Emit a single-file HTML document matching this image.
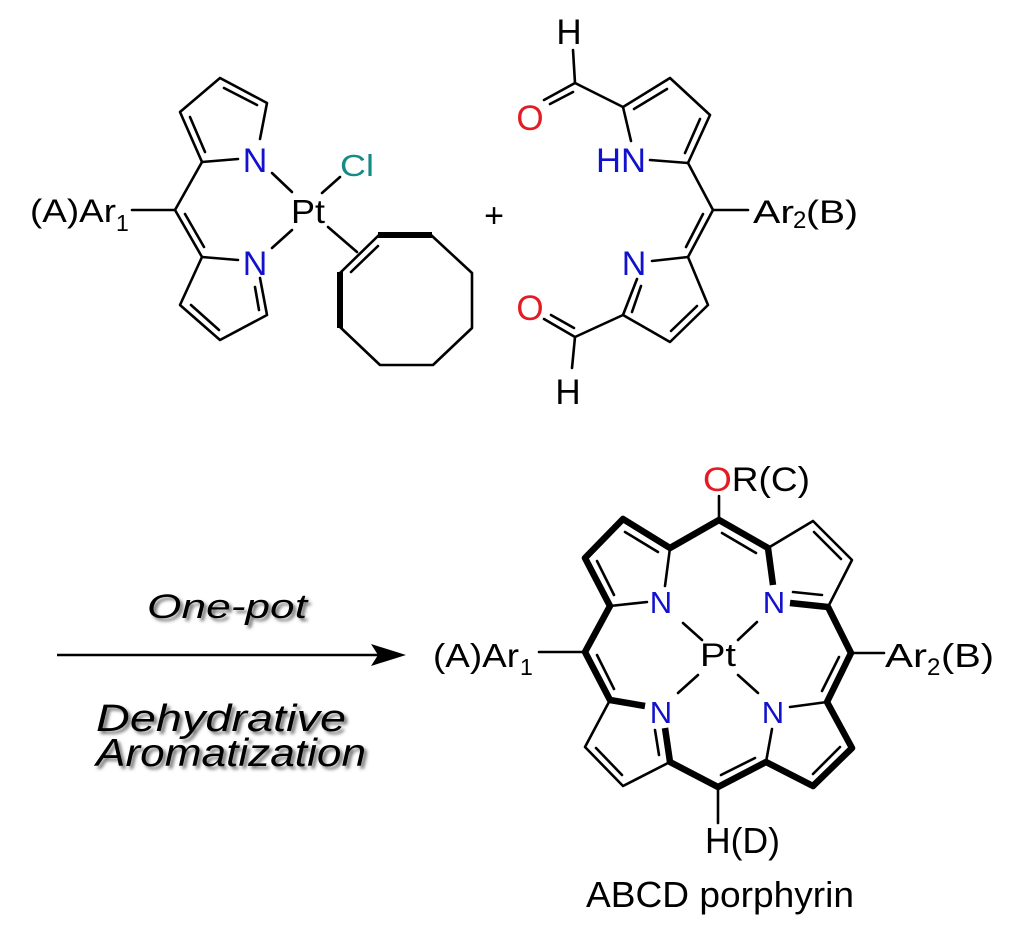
<!DOCTYPE html>
<html><head><meta charset="utf-8">
<style>
html,body{margin:0;padding:0;background:#fff;}
svg{display:block;}
text{font-family:"Liberation Sans",Arial,sans-serif;}
</style></head><body>
<svg width="1024" height="931" viewBox="0 0 1024 931" xmlns="http://www.w3.org/2000/svg">
<defs>
<filter id="sh" x="-10%" y="-40%" width="130%" height="190%">
<feDropShadow dx="3" dy="3" stdDeviation="1.5" flood-color="#555" flood-opacity="0.8"/>
</filter>
</defs>
<rect width="1024" height="931" fill="#fff"/>

<!-- ===== Top-left Pt dipyrrin complex ===== -->
<g stroke="#000" stroke-width="2.6" fill="none" stroke-linecap="round" stroke-linejoin="round">
  <polyline points="202,162 180,112 220,78 267,103 260,139"/>
  <line x1="202" y1="162" x2="238" y2="159"/>
  <line x1="190" y1="117" x2="205" y2="152"/>
  <line x1="224" y1="88" x2="257" y2="105"/>
  <line x1="175" y1="210" x2="202" y2="162"/>
  <line x1="175" y1="210" x2="202" y2="257"/>
  <line x1="185" y1="214" x2="204" y2="247"/>
  <line x1="132" y1="210" x2="175" y2="210"/>
  <line x1="202" y1="257" x2="238" y2="260"/>
  <polyline points="260,278 267,315 220,340 180,305 202,257"/>
  <line x1="255" y1="287" x2="259" y2="310"/>
  <line x1="191" y1="305" x2="219" y2="330"/>
  <line x1="272" y1="173" x2="292" y2="192"/>
  <line x1="272" y1="248" x2="292" y2="230"/>
  <line x1="322" y1="193" x2="340" y2="177"/>
  <line x1="328" y1="227" x2="357" y2="252"/>
  <polyline points="431,235 472,273 472,328 433,365 380,365 340,327"/>
  <line x1="340" y1="273" x2="379" y2="235"/>
  <line x1="351" y1="272" x2="378" y2="246"/>
</g>
<g stroke="#000" stroke-width="6" fill="none" stroke-linecap="butt">
  <line x1="378" y1="235" x2="432" y2="235"/>
  <line x1="340" y1="272" x2="340" y2="328"/>
</g>

<text x="255" y="172" font-size="34" fill="#1212cc" text-anchor="middle">N</text>
<text x="255" y="275" font-size="34" fill="#1212cc" text-anchor="middle">N</text>
<text x="291" y="223" font-size="33" textLength="34" lengthAdjust="spacingAndGlyphs">Pt</text>
<text x="340" y="176" font-size="31" fill="#168a84" textLength="34" lengthAdjust="spacingAndGlyphs">Cl</text>
<text x="30" y="222" font-size="32" textLength="86" lengthAdjust="spacingAndGlyphs">(A)Ar</text>
<text x="116" y="231" font-size="23">1</text>

<text x="494" y="227" font-size="34" text-anchor="middle">+</text>

<!-- ===== Top-right dialdehyde ===== -->
<g stroke="#000" stroke-width="2.6" fill="none" stroke-linecap="round" stroke-linejoin="round">
  <line x1="573" y1="50" x2="575" y2="83"/>
  <line x1="575" y1="83" x2="544" y2="100"/>
  <line x1="573" y1="92" x2="550" y2="104"/>
  <line x1="575" y1="83" x2="623" y2="107"/>
  <line x1="623" y1="107" x2="631" y2="141"/>
  <polyline points="623,107 670,78 710,115 688,163"/>
  <line x1="634" y1="109" x2="667" y2="89"/>
  <line x1="700" y1="119" x2="685" y2="153"/>
  <line x1="688" y1="163" x2="650" y2="160"/>
  <line x1="688" y1="163" x2="713" y2="210"/>
  <line x1="713" y1="210" x2="748" y2="210"/>
  <line x1="713" y1="210" x2="688" y2="257"/>
  <line x1="703" y1="214" x2="686" y2="247"/>
  <line x1="688" y1="257" x2="652" y2="261"/>
  <line x1="637" y1="279" x2="623" y2="315"/>
  <line x1="641" y1="286" x2="632" y2="312"/>
  <polyline points="623,315 670,342 708,305 688,257"/>
  <line x1="671" y1="331" x2="697" y2="306"/>
  <line x1="623" y1="315" x2="575" y2="337"/>
  <line x1="575" y1="337" x2="544" y2="319"/>
  <line x1="574" y1="328" x2="551" y2="315"/>
  <line x1="575" y1="337" x2="572" y2="368"/>
</g>
<text x="569" y="44" font-size="35" text-anchor="middle">H</text>
<text x="530" y="130" font-size="35" fill="#e31b23" text-anchor="middle">O</text>
<text x="596" y="172" font-size="34" fill="#1212cc" textLength="50" lengthAdjust="spacingAndGlyphs">HN</text>
<text x="634" y="275" font-size="34" fill="#1212cc" text-anchor="middle">N</text>
<text x="530" y="320" font-size="35" fill="#e31b23" text-anchor="middle">O</text>
<text x="568" y="404" font-size="35" text-anchor="middle">H</text>
<text x="753" y="223" font-size="32" textLength="41" lengthAdjust="spacingAndGlyphs">Ar</text>
<text x="793" y="228" font-size="24">2</text>
<text x="806" y="223" font-size="32" textLength="52" lengthAdjust="spacingAndGlyphs">(B)</text>

<!-- ===== Arrow and conditions ===== -->
<line x1="57" y1="655" x2="380" y2="655" stroke="#000" stroke-width="2.4"/>
<polygon points="406,655 371,644 378,655 371,666" fill="#000"/>
<g filter="url(#sh)" font-style="italic">
<text x="147" y="618" font-size="34" textLength="160" lengthAdjust="spacingAndGlyphs">One-pot</text>
<text x="96" y="731" font-size="38" textLength="250" lengthAdjust="spacingAndGlyphs">Dehydrative</text>
<text x="96" y="766" font-size="39" textLength="270" lengthAdjust="spacingAndGlyphs">Aromatization</text>
</g>

<!-- ===== Porphyrin ===== -->
<g stroke="#000" stroke-width="6.5" fill="none" stroke-linecap="butt" stroke-linejoin="round">
  <polyline points="645,706 610,700 585,652 610,606 585,558 623,519 670,548 719,520 768,548 773,585"/>
  <polyline points="790,603 828,607 851,653 827,702 852,748 813,786 766,762 718,787 670,762 665,728"/>
</g>
<g stroke="#000" stroke-width="2.6" fill="none" stroke-linecap="round" stroke-linejoin="round">
  <line x1="658" y1="552" x2="625" y2="532"/>
  <line x1="597" y1="561" x2="614" y2="595"/>
  <line x1="722" y1="533" x2="756" y2="553"/>
  <line x1="793" y1="592" x2="822" y2="595"/>
  <line x1="839" y1="657" x2="822" y2="691"/>
  <line x1="840" y1="747" x2="813" y2="774"/>
  <line x1="721" y1="775" x2="755" y2="758"/>
  <line x1="655" y1="730" x2="659" y2="755"/>
  <line x1="597" y1="655" x2="614" y2="689"/>
  <line x1="814" y1="532" x2="841" y2="559"/>
  <line x1="596" y1="748" x2="622" y2="775"/>
  <line x1="670" y1="548" x2="665" y2="586"/>
  <line x1="610" y1="606" x2="647" y2="602"/>
  <polyline points="768,548 813,521 852,560 828,607"/>
  <line x1="827" y1="702" x2="790" y2="707"/>
  <line x1="766" y1="762" x2="772" y2="729"/>
  <polyline points="610,700 585,747 623,786 670,762"/>
  <line x1="683" y1="623" x2="702" y2="640"/>
  <line x1="757" y1="622" x2="738" y2="640"/>
  <line x1="678" y1="693" x2="698" y2="675"/>
  <line x1="758" y1="693" x2="738" y2="675"/>
  <line x1="719" y1="496" x2="719" y2="520"/>
  <line x1="539" y1="652" x2="585" y2="652"/>
  <line x1="851" y1="653" x2="884" y2="653"/>
  <line x1="718" y1="787" x2="718" y2="823"/>
</g>
<text x="703" y="491" font-size="34" textLength="107" lengthAdjust="spacingAndGlyphs"><tspan fill="#e31b23">O</tspan>R(C)</text>
<text x="661" y="613" font-size="31" fill="#1212cc" text-anchor="middle">N</text>
<text x="774" y="613" font-size="31" fill="#1212cc" text-anchor="middle">N</text>
<text x="661" y="723" font-size="31" fill="#1212cc" text-anchor="middle">N</text>
<text x="773" y="723" font-size="31" fill="#1212cc" text-anchor="middle">N</text>
<text x="700" y="666" font-size="32" textLength="36" lengthAdjust="spacingAndGlyphs">Pt</text>
<text x="433" y="667" font-size="33" textLength="86" lengthAdjust="spacingAndGlyphs">(A)Ar</text>
<text x="520" y="675" font-size="23">1</text>
<text x="885" y="667" font-size="33" textLength="42" lengthAdjust="spacingAndGlyphs">Ar</text>
<text x="927" y="675" font-size="24">2</text>
<text x="941" y="667" font-size="33" textLength="53" lengthAdjust="spacingAndGlyphs">(B)</text>
<text x="705" y="853" font-size="36" textLength="75" lengthAdjust="spacingAndGlyphs">H(D)</text>
<text x="586" y="907" font-size="36" textLength="268" lengthAdjust="spacingAndGlyphs">ABCD porphyrin</text>
</svg>
</body></html>
